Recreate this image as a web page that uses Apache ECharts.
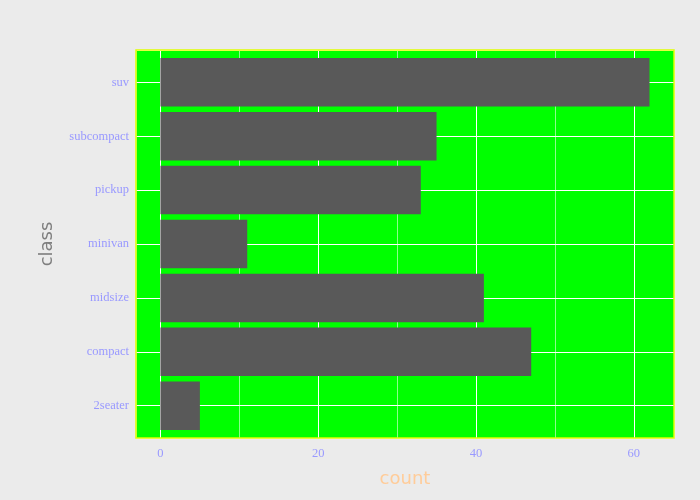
<!DOCTYPE html>
<html>
<head>
<meta charset="utf-8">
<script src="https://cdn.jsdelivr.net/npm/echarts@6/dist/echarts.min.js"></script>
<style>
  html, body { margin: 0; padding: 0; background: #ebebeb; }
  #chart { width: 700px; height: 500px; }
</style>
</head>
<body>
<div id="chart"></div>
<script>
// mpg class counts
const classes = ['2seater', 'compact', 'midsize', 'minivan', 'pickup', 'subcompact', 'suv'];
const counts = [5, 47, 41, 11, 33, 35, 62];

const xMin = -3.1, xMax = 65.1;   // ggplot 5% expansion
const yMin = 0.4, yMax = 7.6;     // discrete expansion 0.6

const chart = echarts.init(document.getElementById('chart'));

const panel = { left: 136, top: 50, right: 26, bottom: 62 };
const unitPx = (500 - panel.top - panel.bottom) / (yMax - yMin);
const inset = (1 - yMin - 0.5) * unitPx; // 0.1 unit

const labelStyle = { color: '#9999ff', fontFamily: 'Liberation Serif', fontSize: 12.5 };

let option = {
  backgroundColor: '#ebebeb',
  animation: false,
  grid: [
    {
      left: panel.left, top: panel.top, right: panel.right, bottom: panel.bottom,
      show: true, backgroundColor: '#00ff00', borderWidth: 0
    },
    {
      left: panel.left, top: panel.top + inset, right: panel.right, bottom: panel.bottom + inset
    }
  ],
  xAxis: [
    {
      type: 'value', gridIndex: 0, min: xMin, max: xMax, splitNumber: 7,
      axisLine: { show: false }, axisTick: { show: false },
      axisLabel: Object.assign({
        margin: 9, showMinLabel: false, showMaxLabel: false,
        formatter: v => (Math.abs(v % 20) < 1e-9 ? String(v) : '')
      }, labelStyle),
      splitLine: { show: true, lineStyle: { color: ['rgba(255,255,255,0.55)', '#ffffff'], width: 1 } },
      name: 'count', nameLocation: 'middle', nameGap: 32,
      nameTextStyle: { color: '#ffcc99', fontFamily: 'DejaVu Sans', fontSize: 18 }
    },
    {
      type: 'value', gridIndex: 1, min: xMin, max: xMax, show: false
    }
  ],
  yAxis: [
    {
      type: 'value', gridIndex: 0, min: yMin, max: yMax, splitNumber: 7,
      axisLine: { show: false }, axisTick: { show: false },
      axisLabel: Object.assign({
        margin: 7, showMinLabel: false, showMaxLabel: false,
        formatter: v => (Number.isInteger(v) && classes[v - 1]) ? classes[v - 1] : ''
      }, labelStyle),
      splitLine: { show: true, lineStyle: { color: '#ffffff', width: 1.2 } },
      name: 'class', nameLocation: 'middle', nameGap: 80, nameRotate: 90,
      nameTextStyle: { color: '#7f7f7f', fontFamily: 'DejaVu Sans', fontSize: 18 }
    },
    {
      type: 'category', gridIndex: 1, data: classes, show: false
    }
  ],
  series: [
    {
      type: 'bar', xAxisIndex: 1, yAxisIndex: 1,
      data: counts,
      barCategoryGap: '10%',
      itemStyle: { color: '#595959' }
    }
  ],
  graphic: [
    {
      type: 'rect', z: 100, silent: true,
      shape: { x: panel.left, y: panel.top, width: 700 - panel.left - panel.right, height: 500 - panel.top - panel.bottom },
      style: { fill: 'none', stroke: '#dfff00', lineWidth: 1.5 }
    }
  ]
};

chart.setOption(option);
</script>
</body>
</html>
